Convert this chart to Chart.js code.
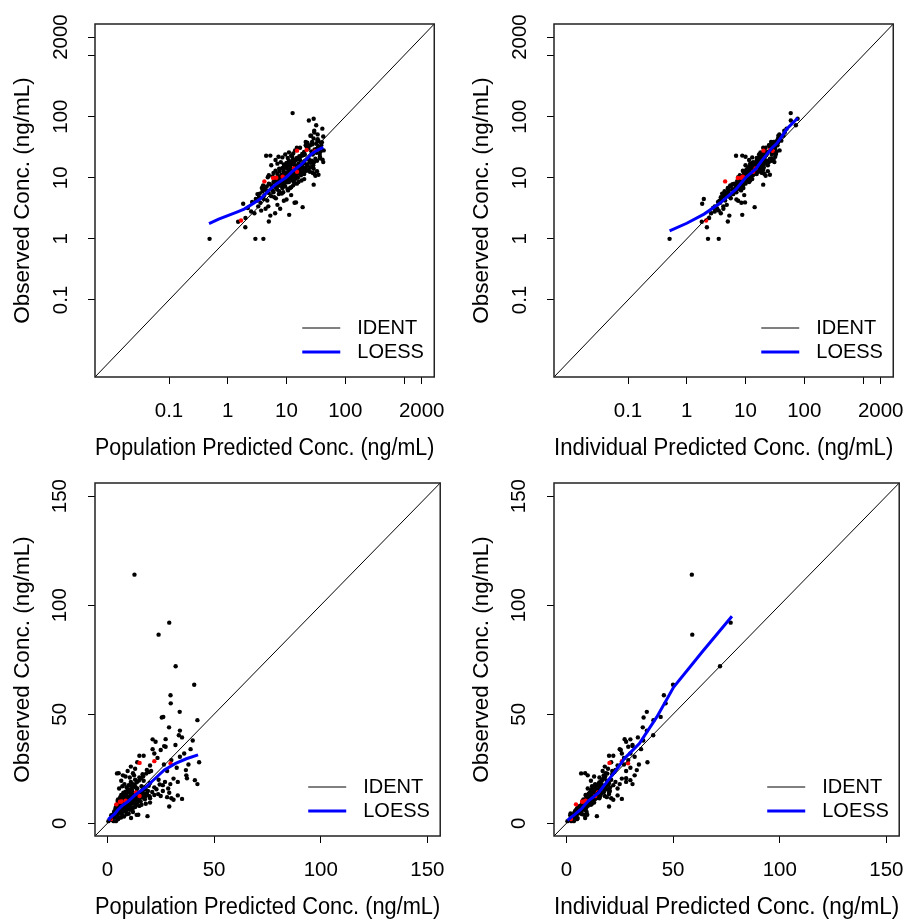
<!DOCTYPE html>
<html>
<head>
<meta charset="utf-8">
<script src="https://cdn.jsdelivr.net/npm/chart.js@4.4.1/dist/chart.umd.min.js"></script>
<style>
  body { margin: 0; background: #fff; }
  canvas { position: absolute; }
</style>
</head>
<body>
<canvas id="popLog" width="460" height="460" style="left:0;top:0"></canvas>
<canvas id="indLog" width="460" height="460" style="left:459px;top:0"></canvas>
<canvas id="popLin" width="460" height="460" style="left:0;top:459px"></canvas>
<canvas id="indLin" width="460" height="460" style="left:459px;top:459px"></canvas>
<script>
// observed vs population (PRED) and individual (IPRED) predictions, ng/mL
const predConc = [
  0.49, 1.99, 2.95, 4.04, 5.0, 5.3, 6.4, 2.84, 11.1, 7.8, 4.4, 18.8,
  1.83, 3.0, 4.1, 4.7, 13.7, 14.5, 10.0, 8.3, 3.6, 5.5, 6.2, 7.0, 3.3, 9.0, 12.0, 6.0, 5.0,
  4.5, 5.5, 6.5, 7.5, 8.5, 9.5, 10.5, 12.0, 13.0, 15.0, 29.0, 11.0, 9.0, 7.0, 6.0, 5.0, 4.0, 8.0, 10.0, 12.5,
  14.0, 16.0, 18.0, 3.8, 6.8, 9.2, 11.5, 7.8, 13.5, 10.8, 20.0,
  5.0, 6.0, 7.0, 8.0, 9.0, 10.0, 11.0, 12.0, 13.0, 14.0, 15.0, 16.0, 17.0, 18.0, 20.0, 22.0, 25.0, 28.0, 29.0, 30.0,
  7.5, 8.5, 9.5, 10.5, 11.5, 12.5, 13.5, 6.5, 5.8, 4.8, 10.2, 11.8, 14.8, 16.5, 19.0, 31.0, 33.0, 35.0,
  5.5, 7.0, 8.0, 9.0, 10.0, 11.0, 12.0, 13.0, 14.0, 15.0, 16.0, 17.0, 18.0, 20.0, 22.0, 24.0, 26.0, 27.0, 28.5, 29.5,
  31.0, 37.3, 41.0, 42.2, 8.5, 10.5, 12.5, 6.5, 11.5, 13.8,
  4.5, 5.3, 7.3, 9.5, 11.0, 13.0, 14.0, 15.0, 17.0, 18.5, 20.0, 21.2, 22.0, 23.5, 25.0, 26.5, 28.0, 30.0, 31.9, 32.5,
  34.0, 36.8, 38.0, 16.5, 19.5, 12.0, 27.3, 22.6,
  21.2, 26.6, 27.3, 35.0, 33.5, 34.0, 28.9, 42.2, 26.2, 25.5, 33.9, 29.7, 29.6, 40.7, 32.0, 24.0, 29.0, 12.7,
  6.2, 7.2, 8.2, 9.2, 10.4, 11.4, 12.4, 13.4, 14.4, 15.4, 16.4, 17.4, 18.4, 19.4, 21.0, 23.0, 24.5, 26.0, 7.6, 8.8,
  9.8, 10.8, 11.8, 12.8, 13.8, 14.8, 15.8, 16.8, 18.2, 20.5, 5.6, 6.6, 8.6, 9.6, 10.6, 11.6, 12.6, 13.6, 15.6, 17.6,
  3.2, 4.2, 2.6, 3.4, 36.0, 39.0, 43.0, 40.0, 37.0, 33.0,
  2.2, 2.5, 3.1, 3.5, 3.9, 4.3, 4.6, 5.2, 5.8, 6.3, 6.9, 7.3, 7.9, 8.4, 8.9, 9.4, 9.9, 10.3, 10.9, 11.3,
  12.2, 12.9, 14.2, 15.2, 16.2, 17.2, 18.6, 19.8, 2.0, 1.5, 3.7, 4.9, 6.6, 7.4, 8.8, 10.6, 9.7, 11.2, 13.2, 23.8
];
const ipredConc = [
  0.51, 2.2, 2.3, 3.5, 5.0, 5.3, 3.8, 2.6, 8.8, 4.2, 3.3, 14.3,
  1.83, 1.95, 3.9, 4.5, 8.5, 9.8, 7.0, 6.0, 3.7, 4.2, 5.5, 4.8, 3.0, 7.5, 9.5, 5.0, 4.8,
  5.2, 6.0, 6.8, 6.5, 7.2, 7.8, 8.0, 8.5, 9.0, 10.0, 20.0, 9.5, 8.5, 8.2, 7.5, 6.5, 5.5, 9.0, 9.8, 10.5,
  11.0, 11.5, 12.0, 5.0, 7.0, 8.8, 9.2, 7.6, 10.0, 10.2, 13.0,
  8.0, 9.5, 10.0, 10.5, 11.0, 11.5, 12.0, 12.5, 12.5, 13.0, 12.0, 13.5, 14.0, 15.0, 15.5, 16.0, 18.0, 19.0, 20.0, 21.0,
  11.0, 12.0, 13.0, 13.5, 13.0, 14.0, 14.5, 9.0, 8.5, 7.5, 10.8, 11.2, 12.8, 14.5, 16.0, 22.0, 24.0, 26.0,
  10.0, 12.0, 13.5, 14.0, 15.0, 16.0, 16.5, 17.0, 17.5, 18.0, 18.5, 19.0, 19.5, 20.0, 20.5, 21.0, 22.0, 23.0, 24.0, 25.0,
  26.0, 28.0, 30.0, 31.0, 13.0, 15.5, 17.5, 11.5, 14.5, 16.0,
  6.9, 8.8, 10.0, 17.0, 18.0, 19.5, 21.0, 20.0, 22.0, 23.0, 24.0, 25.0, 26.0, 27.0, 25.5, 27.0, 28.0, 29.0, 31.0, 30.0,
  32.0, 33.0, 34.0, 21.5, 22.5, 18.5, 29.0, 28.0,
  30.0, 31.0, 27.3, 33.5, 40.7, 37.7, 35.8, 40.8, 44.2, 36.2, 37.7, 46.5, 45.7, 50.0, 72.0, 59.0, 77.0, 58.8,
  7.8, 8.6, 9.4, 10.0, 10.6, 11.8, 12.2, 12.6, 13.4, 14.2, 15.0, 15.6, 16.2, 16.8, 17.6, 18.6, 19.6, 20.4, 9.2, 10.4,
  11.4, 12.4, 13.6, 14.8, 15.4, 16.6, 17.4, 18.2, 19.2, 21.5, 6.8, 7.4, 8.4, 9.0, 9.6, 10.4, 11.0, 11.6, 12.4, 13.4,
  4.2, 4.6, 3.4, 3.8, 30.0, 35.0, 38.0, 36.0, 32.0, 28.0,
  2.8, 3.0, 3.6, 4.0, 4.4, 5.0, 5.6, 6.0, 6.4, 7.2, 7.0, 7.8, 8.4, 8.0, 9.6, 9.2, 10.4, 9.4, 11.0, 10.6,
  11.4, 13.2, 12.2, 13.0, 14.0, 14.4, 15.2, 15.8, 2.4, 1.8, 3.5, 4.2, 5.6, 6.2, 7.0, 8.4, 11.6, 13.2, 15.0, 20.0
];
const obsConc = [
  1.0, 1.55, 1.0, 1.0, 1.92, 2.4, 2.63, 2.63, 2.47, 3.1, 3.1, 3.3,
  3.75, 4.5, 4.5, 4.25, 3.9, 3.95, 4.4, 5.5, 3.9, 5.0, 4.8, 3.6, 3.4, 4.2, 5.2, 5.8, 5.6,
  6.2, 6.5, 7.0, 6.0, 6.8, 7.2, 6.5, 7.0, 7.5, 8.0, 7.7, 8.5, 8.8, 9.0, 8.5, 8.0, 7.5, 9.5, 9.2, 9.0,
  9.5, 8.5, 9.0, 6.8, 7.8, 7.6, 6.8, 8.2, 8.3, 9.8, 9.5,
  11.0, 12.0, 11.5, 10.5, 12.5, 11.0, 13.0, 12.0, 10.8, 11.5, 10.5, 12.0, 13.5, 12.5, 11.5, 13.0, 12.5, 12.0, 14.0, 11.5,
  14.0, 14.5, 15.0, 14.0, 14.8, 13.8, 14.2, 13.0, 10.5, 10.2, 10.2, 11.8, 13.2, 14.6, 14.8, 10.8, 12.8, 11.2,
  16.0, 17.0, 18.0, 16.5, 17.5, 19.0, 18.0, 20.0, 16.0, 21.0, 17.0, 19.5, 15.5, 18.5, 16.5, 20.0, 17.5, 19.0, 16.0, 18.0,
  20.5, 20.7, 19.8, 18.0, 21.5, 21.0, 22.0, 19.5, 15.5, 15.8,
  22.9, 23.0, 22.0, 24.0, 26.0, 25.0, 28.0, 31.0, 31.0, 24.5, 26.5, 34.0, 32.0, 30.0, 33.6, 27.0, 24.0, 29.0, 35.9, 25.5,
  30.5, 24.4, 27.0, 22.5, 23.5, 23.0, 35.1, 37.4,
  38.5, 35.4, 38.6, 39.4, 40.4, 42.5, 44.0, 47.3, 48.8, 48.5, 51.1, 55.0, 58.7, 63.5, 72.0, 86.5, 92.0, 114.0,
  9.5, 10.2, 11.2, 10.6, 12.2, 12.6, 10.4, 12.4, 13.0, 14.0, 15.2, 16.4, 13.6, 17.2, 14.4, 15.6, 17.8, 14.8, 12.8, 13.6,
  14.6, 15.6, 16.8, 17.6, 18.8, 19.6, 20.6, 21.6, 22.8, 24.0, 7.4, 8.0, 8.0, 8.6, 9.6, 10.0, 10.6, 11.2, 10.0, 11.0,
  5.4, 5.2, 4.0, 4.8, 32.0, 34.0, 28.0, 38.0, 22.0, 19.0,
  3.2, 2.8, 4.2, 5.5, 6.0, 6.6, 7.2, 7.8, 6.2, 8.8, 6.4, 7.4, 8.6, 7.2, 10.8, 9.0, 11.6, 8.4, 11.4, 9.6,
  10.8, 13.4, 10.2, 11.8, 12.8, 11.6, 13.2, 12.4, 2.2, 1.9, 2.9, 3.4, 4.6, 5.4, 5.8, 6.2, 15.4, 17.4, 16.6, 13.4
];

// flagged observations (red)
const redPred = [1.68, 4.2, 5.9, 6.7, 8.6, 13.4, 15.1, 15.1, 22.0, 29.6];
const redIpred = [2.13, 4.5, 7.4, 8.4, 9.0, 14.8, 13.5, 20.2, 26.0, 28.9];
const redObs = [2.0, 8.7, 9.9, 10.0, 10.4, 14.2, 12.5, 27.7, 28.5, 27.5];

// loess smooths
const loessPredX = [0.48, 0.7, 1, 1.5, 1.9, 2.6, 3.56, 5, 6.7, 9.8, 13, 18.3, 22, 26.7, 32, 37, 42.5];
const loessPredY = [1.78, 2.1, 2.4, 2.8, 3.07, 3.7, 4.48, 6.2, 7.9, 10.1, 13, 16.8, 20.2, 24.5, 27.5, 29.6, 31.4];
const loessIpredX = [0.51, 1, 1.97, 3.7, 6.9, 10.1, 15, 19, 22.7, 27.3, 34.2, 42.4, 50.3, 64, 77.6];
const loessIpredY = [1.35, 1.8, 2.54, 3.85, 6.5, 10.1, 13.9, 19.0, 23.6, 29.8, 36.6, 48.8, 62.5, 79, 94.9];

// axes
const logTicks = [0.1, 1, 10, 100, 1000, 2000];
const logTickLabels = ['0.1', '1', '10', '100', '', '2000'];
const linTicks = [0, 50, 100, 150];
const linTickLabels = ['0', '50', '100', '150'];
const logRange = [0.0055, 3270];
const linRange = [-5.8, 156];
const identLog = [0.001, 10000];
const identLin = [-20, 200];

const FONT = '"Liberation Sans", Arial, sans-serif';

function pts(xs, ys) {
  return xs.map((x, i) => ({ x: x, y: ys[i] }));
}

// frame around plot region + legend in bottom right corner
const framePlugin = {
  id: 'frame',
  afterDraw(chart) {
    const a = chart.chartArea;
    const ctx = chart.ctx;
    ctx.save();
    ctx.strokeStyle = '#222';
    ctx.lineWidth = 1.5;
    ctx.strokeRect(a.left, a.top, a.right - a.left, a.bottom - a.top);

    ctx.font = '20px ' + FONT;
    ctx.textBaseline = 'middle';
    ctx.textAlign = 'left';
    chart.data.datasets.filter(d => d.inLegend).forEach((d, i) => {
      const y = a.bottom - 49 + i * 24;
      ctx.strokeStyle = d.borderColor;
      ctx.lineWidth = d.borderWidth;
      ctx.beginPath();
      ctx.moveTo(a.right - 132, y);
      ctx.lineTo(a.right - 94, y);
      ctx.stroke();
      ctx.fillStyle = '#000';
      ctx.fillText(d.label, a.right - 77, y);
    });
    ctx.restore();
  }
};

function makeAxis(isLog, isY, title) {
  const ticks = isLog ? logTicks : linTicks;
  const labels = isLog ? logTickLabels : linTickLabels;
  const range = isLog ? logRange : linRange;
  return {
    type: isLog ? 'logarithmic' : 'linear',
    min: range[0],
    max: range[1],
    bounds: 'data',
    afterBuildTicks: s => { s.ticks = ticks.map(v => ({ value: v })); },
    afterFit: s => { if (isY) s.width = 95; else s.height = 83; },
    grid: { drawOnChartArea: false, drawTicks: true, tickLength: 7, color: '#000' },
    border: { display: false },
    ticks: {
      autoSkip: false,
      color: '#000',
      font: { family: FONT, size: 20.5 },
      padding: isY ? (isLog ? 4.2 : 10.3) : 15,
      minRotation: isY ? 90 : 0,
      maxRotation: isY ? 90 : 0,
      crossAlign: isY ? 'center' : 'near',
      callback: (v, i) => labels[i]
    },
    title: {
      display: true,
      text: title,
      color: '#000',
      font: { family: FONT, size: isY ? 22.5 : 23.5, lineHeight: 1 },
      padding: isY ? { top: 12, bottom: 0 } : { top: 0, bottom: 0 }
    }
  };
}

function makePanel(id, isLog, xs, redXs, loessX, loessY, xTitle) {
  const ident = isLog ? identLog : identLin;
  new Chart(document.getElementById(id), {
    type: 'scatter',
    data: {
      datasets: [
        { label: 'IDENT', inLegend: true, data: pts(ident, ident), showLine: true,
          borderColor: '#000', borderWidth: 1, pointRadius: 0, order: 1 },
        { label: 'LOESS', inLegend: true, data: pts(loessX, loessY), showLine: true,
          borderColor: '#0000ff', borderWidth: 3, pointRadius: 0, order: 0 },
        { label: 'flagged', data: pts(redXs, redObs), backgroundColor: '#ff0000',
          borderWidth: 0, pointRadius: 2.2, order: 2 },
        { label: 'obs', data: pts(xs, obsConc), backgroundColor: '#000',
          borderWidth: 0, pointRadius: 2.2, order: 3 }
      ]
    },
    options: {
      responsive: false,
      animation: false,
      devicePixelRatio: 1,
      layout: { padding: { top: 24, right: 13, left: 0, bottom: 0 } },
      plugins: { legend: { display: false }, tooltip: { enabled: false } },
      scales: {
        x: makeAxis(isLog, false, xTitle),
        y: makeAxis(isLog, true, 'Observed Conc. (ng/mL)')
      }
    },
    plugins: [framePlugin]
  });
}

makePanel('popLog', true, predConc, redPred, loessPredX, loessPredY, 'Population Predicted Conc. (ng/mL)');
makePanel('indLog', true, ipredConc, redIpred, loessIpredX, loessIpredY, 'Individual Predicted Conc. (ng/mL)');
makePanel('popLin', false, predConc, redPred, loessPredX, loessPredY, 'Population Predicted Conc. (ng/mL)');
makePanel('indLin', false, ipredConc, redIpred, loessIpredX, loessIpredY, 'Individual Predicted Conc. (ng/mL)');
</script>
</body>
</html>
